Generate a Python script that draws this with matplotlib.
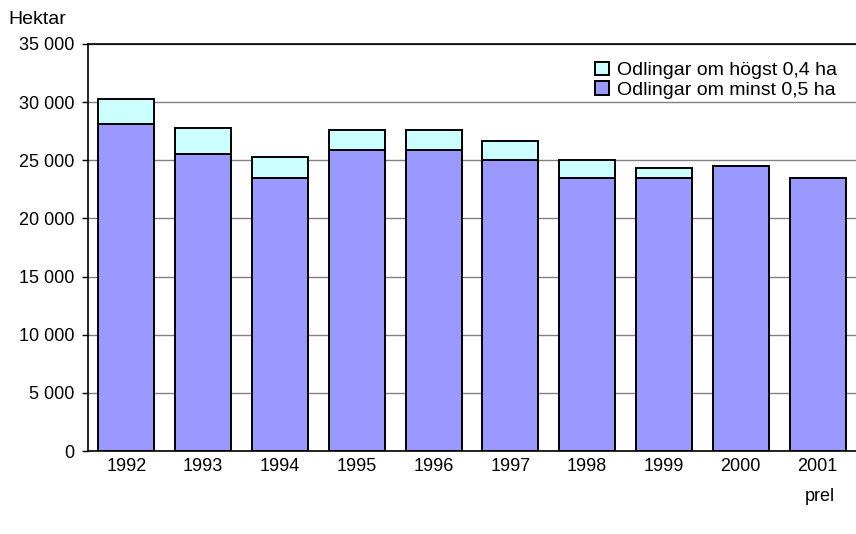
import matplotlib
matplotlib.use("Agg")
import matplotlib.pyplot as plt
import numpy as np

plt.rcParams['font.family'] = ['Liberation Sans', 'DejaVu Sans']

years = ["1992", "1993", "1994", "1995", "1996", "1997", "1998", "1999", "2000", "2001"]
minst_05 = [28100, 25500, 23500, 25900, 25900, 25000, 23500, 23500, 24500, 23500]
hogst_04 = [2200, 2300, 1800, 1700, 1700, 1700, 1500, 800, 0, 0]
yticks = [0, 5000, 10000, 15000, 20000, 25000, 30000, 35000]
ytick_labels = ["0", "5 000", "10 000", "15 000", "20 000", "25 000", "30 000", "35 000"]

fig = plt.figure(figsize=(8.56, 5.34), dpi=100)
ax = fig.add_axes([88/856, 1 - 451/534, 1 - 88/856, (451 - 44)/534])

x = np.arange(len(years))
w = 0.73
ax.bar(x, minst_05, width=w, color="#9999FF", edgecolor="black", linewidth=1.4,
       label="Odlingar om minst 0,5 ha", zorder=3)
ax.bar(x, hogst_04, width=w, bottom=minst_05, color="#CCFFFF", edgecolor="black",
       linewidth=1.4, label="Odlingar om högst 0,4 ha", zorder=3)

ax.set_xlim(-0.5, len(years) - 0.5)
ax.set_ylim(0, 35000)
ax.set_yticks(yticks)
ax.set_yticklabels(ytick_labels, fontsize=13)
ax.set_xticks(x)
ax.set_xticklabels(years, fontsize=13)
ax.tick_params(axis='x', length=0, pad=5)
ax.tick_params(axis='y', direction='out', length=4, width=1, pad=6)
ax.yaxis.grid(True, color="#808080", linewidth=1, zorder=0)
ax.set_axisbelow(True)

for s in ["left", "bottom", "top"]:
    ax.spines[s].set_color("black")
    ax.spines[s].set_linewidth(1.2)
ax.spines["right"].set_visible(False)

ax.text(len(years) - 1 + 0.03, -0.09, "prel", transform=ax.get_xaxis_transform(),
        ha="center", va="top", fontsize=13)
fig.text(8/856, 1 - 20/534, "Hektar", ha="left", va="center", fontsize=14)

handles, labels = ax.get_legend_handles_labels()
leg = ax.legend(handles[::-1], labels[::-1], loc="upper right", bbox_to_anchor=(0.99, 0.985),
                frameon=False, fontsize=14, handlelength=0.7, handleheight=0.7,
                handletextpad=0.4, labelspacing=0.1, borderaxespad=0.2)

fig.savefig("out.png", dpi=100)
